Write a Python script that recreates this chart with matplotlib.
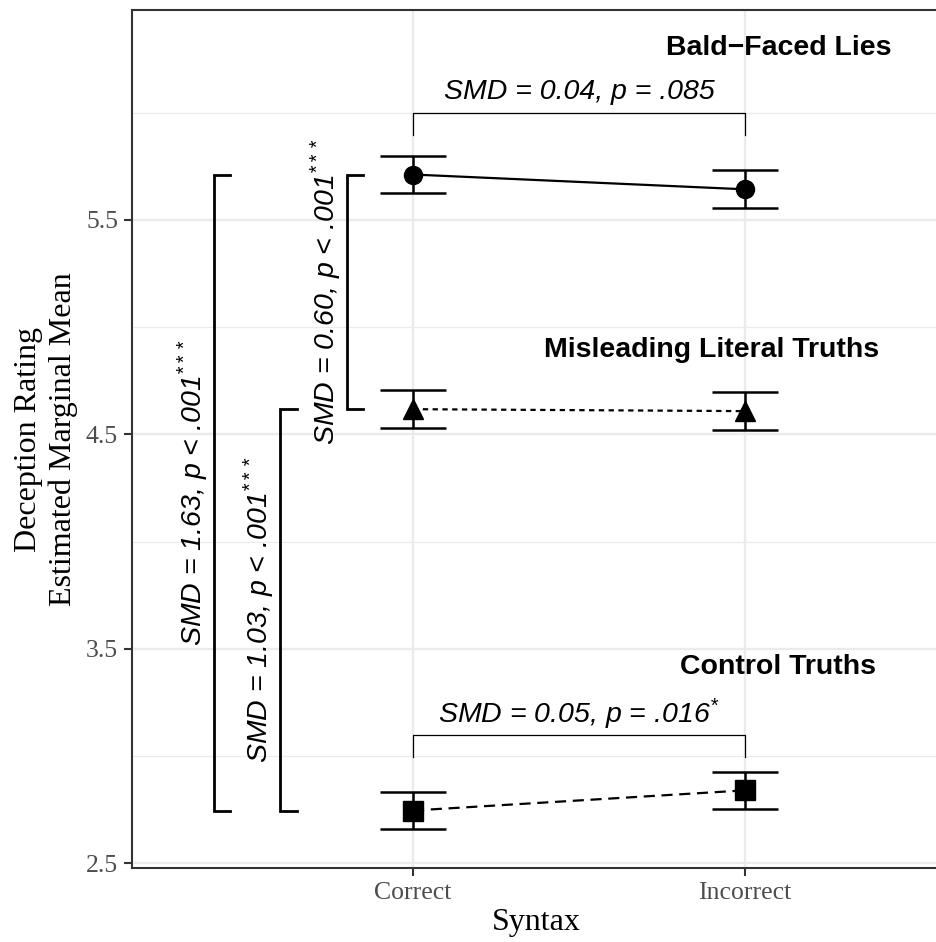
import numpy as np
import matplotlib
matplotlib.use("Agg")
from matplotlib import pyplot as plt

# Estimated marginal means (+/- half-width of error bars) by syntax condition
syntax = ['Correct', 'Incorrect']
groups = ['Bald\u2212Faced Lies', 'Misleading Literal Truths', 'Control Truths']
means_correct = [5.712, 4.618, 2.747]
means_incorrect = [5.643, 4.609, 2.841]
err_correct = [0.088, 0.088, 0.086]
err_incorrect = [0.088, 0.088, 0.086]

y_ticks = [2.5, 3.5, 4.5, 5.5]
y_minor = [3.0, 4.0, 5.0, 6.0]

# comparison annotations
within_labels = ['SMD = 0.04, p = .085', 'SMD = 0.05, p = .016$^{*}$']
between_labels = ['SMD = 1.63, p < .001$^{***}$',
                  'SMD = 1.03, p < .001$^{***}$',
                  'SMD = 0.60, p < .001$^{***}$']

plt.rcParams['mathtext.fontset'] = 'custom'
plt.rcParams['mathtext.rm'] = 'Liberation Sans:italic'
plt.rcParams['mathtext.it'] = 'Liberation Sans:italic'

serif = 'Liberation Serif'
sans = 'Liberation Sans'
grid_col = '#EBEBEB'
frame_col = '#333333'

fig = plt.figure(figsize=(9.37, 9.42), dpi=100)
ax = fig.add_axes([132 / 937, 74 / 942, 808 / 937, 858 / 942])

xpos = np.arange(1, len(syntax) + 1)
ax.set_xlim(0.1536, 2.587)
ax.set_ylim(2.479, 6.479)

# grid
ax.set_yticks(y_ticks)
ax.set_yticks(y_minor, minor=True)
ax.set_xticks(xpos)
ax.set_xticklabels(syntax)
ax.set_yticklabels([str(v) for v in y_ticks])
for v in y_ticks:
    ax.axhline(v, color=grid_col, lw=1.7, zorder=0)
for v in y_minor:
    ax.axhline(v, color=grid_col, lw=0.9, zorder=0)
for v in xpos:
    ax.axvline(v, color=grid_col, lw=1.7, zorder=0)

markers = ['o', '^', 's']
msizes = [13, 15, 14]
styles = ['-', (0, (2.4, 2.0)), (0, (5, 3))]
cap = 0.1
for i in range(len(groups)):
    ys = [means_correct[i], means_incorrect[i]]
    es = [err_correct[i], err_incorrect[i]]
    ax.plot(xpos, ys, color='black', lw=1.6, ls=styles[i], zorder=3)
    ax.plot(xpos, ys, ls='none', marker=markers[i], ms=msizes[i],
            color='black', zorder=4)
    for x, y, e in zip(xpos, ys, es):
        ax.vlines(x, y - e, y + e, color='black', lw=1.8, zorder=3)
        ax.hlines([y - e, y + e], x - cap, x + cap, color='black', lw=1.8, zorder=3)

# group labels
label_x = [2.102, 1.90, 2.10]
label_y = [6.302, 4.894, 3.416]
for g, lx, ly in zip(groups, label_x, label_y):
    ax.text(lx, ly, g, fontsize=20.5, fontweight='bold', family=sans,
            ha='center', va='center')

# within-group brackets (Correct vs Incorrect)
within_y = [6.0, 3.1]
for lab, by in zip(within_labels, within_y):
    ax.plot([1, 1, 2, 2], [by - 0.105, by, by, by - 0.105], color='black', lw=0.9)
    ax.text(1.5, by + 0.097, lab, fontsize=20.5, style='italic', family=sans,
            ha='center', va='center')

# between-group brackets (Correct condition)
pairs = [(0, 2), (1, 2), (0, 1)]
bracket_x = [0.40, 0.60, 0.80]
tick = 0.05
for lab, (a, b), bx in zip(between_labels, pairs, bracket_x):
    y0, y1 = means_correct[a], means_correct[b]
    ax.plot([bx + tick, bx, bx, bx + tick], [y0, y0, y1, y1],
            color='black', lw=2.0, solid_joinstyle='miter')
    ax.text(bx - 0.062, (y0 + y1) / 2, lab, fontsize=20.5, style='italic',
            family=sans, rotation=90, ha='center', va='center')

# frame and axes styling
for s in ['left', 'bottom', 'top']:
    ax.spines[s].set_color(frame_col)
    ax.spines[s].set_linewidth(1.5)
ax.spines['right'].set_visible(False)
ax.tick_params(axis='both', which='major', length=6, width=1.5, color=frame_col,
               labelsize=18.5, labelcolor='#4D4D4D', pad=4)
ax.tick_params(axis='both', which='minor', length=0)
for t in ax.get_xticklabels() + ax.get_yticklabels():
    t.set_family(serif)

ax.set_xlabel('Syntax', fontsize=23, family=serif, va='center')
ax.xaxis.set_label_coords(0.5, -0.063)
ax.set_ylabel('Deception Rating\nEstimated Marginal Mean', fontsize=23,
              family=serif, va='center', linespacing=1.25)
ax.yaxis.set_label_coords(-0.106, 0.5)

fig.savefig('out.png', dpi=100)
